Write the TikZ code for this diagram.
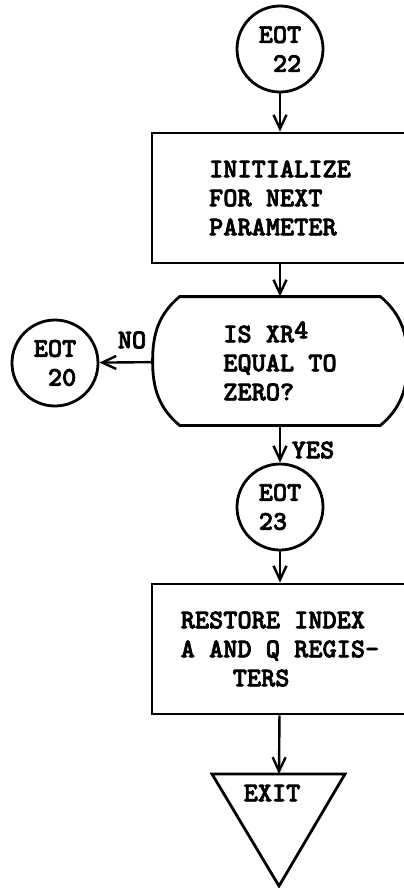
\documentclass[tikz,border=0pt]{standalone}
\usepackage{fontspec}
\newfontfamily\typewriter{lmmonolt10-bold}[Extension=.otf,FakeBold=2.5]
\usetikzlibrary{arrows.meta,calc}

\tikzset{
  flowline/.style={line width=1.4pt},
  eotcircle/.style={draw,circle,flowline,minimum size=43pt,inner sep=0pt,align=left},
  procbox/.style={draw,flowline,minimum width=128pt,minimum height=65pt,align=left},
  flowarrow/.style={line width=1.2pt,-{Straight Barb[length=7pt,width=6.5pt]}},
}

\begin{document}
\begin{tikzpicture}[x=0.5pt,y=0.5pt,font=\typewriter\fontsize{13.5}{14.5}\selectfont]
\useasboundingbox (0,0) rectangle (403,-888);

\node[eotcircle] (eot22) at (280,-49) {EOT\\\hphantom{2}22};
\node[procbox] (init) at (280,-198) {INITIALIZE\\FOR NEXT\\PARAMETER};

% decision
\node[minimum width=127pt,minimum height=64pt,align=left] (test) at (280,-361) {IS XR\raisebox{2pt}{4}\\EQUAL TO\\ZERO?};
\coordinate (tl) at ($(test.north west)+(27,0)$);
\coordinate (tr) at ($(test.north east)+(-27,0)$);
\coordinate (br) at ($(test.south east)+(-27,0)$);
\coordinate (bl) at ($(test.south west)+(27,0)$);
\draw[flowline] (tl) -- (tr) to[out=-40,in=90] (test.east) to[out=-90,in=40] (br)
  -- (bl) to[out=140,in=-90] (test.west) to[out=90,in=-140] (tl) -- cycle;

\node[eotcircle,align=center] (eot20) at (55,-363) {EOT\\\hphantom{0}20};
\node (no) at (132,-340) {NO};
\node[eotcircle] (eot23) at (280,-507) {EOT\\23};
\node (yes) at (313,-450) {YES};
\node[procbox] (restore) at (280,-649) {RESTORE INDEX\\A AND Q REGIS-\\\hspace*{26pt}TERS};

% exit
\coordinate (exittop) at (279,-774);
\node (exit) at (272,-793) {EXIT};
\draw[flowline] (212,-774) -- (345,-774) -- (279,-886) -- cycle;

\draw[flowarrow] (eot22) -- (init);
\draw[flowarrow] (init) -- (test);
\draw[flowarrow] (test) -- (eot20);
\draw[flowarrow] (test) -- (eot23);
\draw[flowarrow] (eot23) -- (restore);
\draw[flowarrow] (restore) -- (exittop);
\end{tikzpicture}
\end{document}
